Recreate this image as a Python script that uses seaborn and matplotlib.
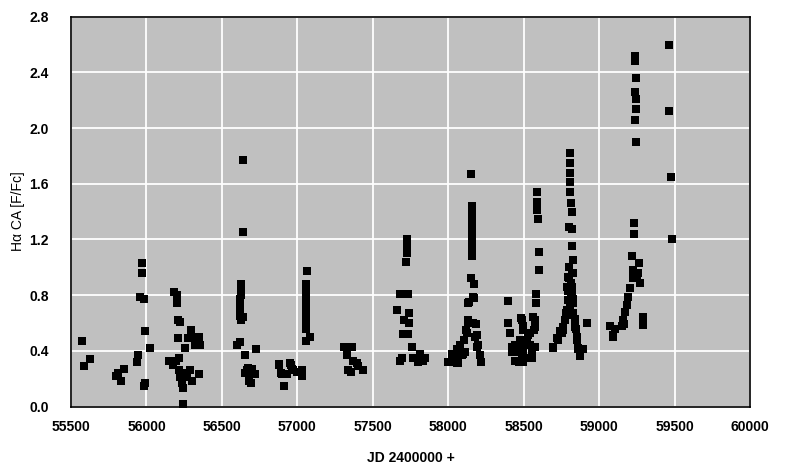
import matplotlib
matplotlib.use("Agg")
import matplotlib.pyplot as plt
from matplotlib.ticker import MultipleLocator, FormatStrFormatter
import numpy as np
import pandas as pd
import seaborn as sns

# Observations per season (JD - 2400000, H-alpha central absorption F/Fc)
jd_2011 = [55575, 55588, 55626, 55798, 55812, 55831, 55853]
ha_2011 = [0.47, 0.29, 0.34, 0.22, 0.24, 0.18, 0.27]

jd_2012 = [55971, 55973, 55957, 55986, 55992, 56024, 55944, 55939, 55992, 55986,
           56185, 56200, 56200, 56211, 56224, 56211, 56256, 56295, 56273, 56322,
           56350, 56322, 56355, 56350, 56152, 56174, 56213, 56213, 56222, 56233,
           56244, 56266, 56289, 56300, 56240, 56255, 56195]
ha_2012 = [1.03, 0.96, 0.79, 0.77, 0.54, 0.42, 0.37, 0.32, 0.17, 0.15,
           0.82, 0.80, 0.74, 0.62, 0.61, 0.49, 0.42, 0.55, 0.49, 0.50,
           0.50, 0.44, 0.44, 0.23, 0.33, 0.30, 0.35, 0.26, 0.21, 0.17,
           0.13, 0.21, 0.26, 0.18, 0.02, 0.24, 0.33]

jd_2013 = [56642, 56638, 56627, 56627, 56625, 56623, 56621, 56620, 56620, 56622,
           56625, 56642, 56620, 56603, 56653, 56726, 56664, 56675, 56686, 56682,
           56720, 56653, 56697, 56700, 56690,
           56877, 56890, 56912, 56956, 56967, 56930, 56996, 56881, 56952, 57029,
           57029, 56973, 56900]
ha_2013 = [1.77, 1.25, 0.88, 0.84, 0.80, 0.77, 0.74, 0.71, 0.68, 0.65,
           0.62, 0.64, 0.46, 0.44, 0.37, 0.415, 0.26, 0.28, 0.24, 0.18,
           0.23, 0.24, 0.27, 0.23, 0.17,
           0.30, 0.24, 0.15, 0.30, 0.27, 0.23, 0.25, 0.305, 0.31, 0.26,
           0.22, 0.26, 0.23]

jd_2015 = [57062, 57060, 57060, 57058, 57058, 57057, 57056, 57055, 57055, 57055,
           57056, 57084, 57055,
           57312, 57364, 57327, 57371, 57338, 57404, 57433, 57358, 57393]
ha_2015 = [0.97, 0.88, 0.85, 0.82, 0.79, 0.76, 0.73, 0.68, 0.62, 0.59,
           0.56, 0.50, 0.47,
           0.425, 0.43, 0.37, 0.33, 0.26, 0.29, 0.26, 0.25, 0.31]

jd_2016 = [57729, 57727, 57725, 57724, 57723, 57681, 57736, 57663, 57743, 57709,
           57743, 57702, 57736, 57757, 57692, 57681, 57769, 57813, 57835, 57802,
           57846]
ha_2016 = [1.20, 1.17, 1.13, 1.10, 1.04, 0.81, 0.81, 0.69, 0.67, 0.62,
           0.60, 0.52, 0.52, 0.43, 0.35, 0.33, 0.35, 0.38, 0.33, 0.32,
           0.35]

jd_2017 = [58056, 58034, 58067, 58078, 58100, 58045, 58023, 58149, 58156, 58156,
           58156, 58156, 58156, 58156, 58156, 58156, 58156, 58156, 58149, 58171,
           58171, 58140, 58131, 58118, 58105, 58184, 58191, 58197, 58211, 58218,
           58067, 58045, 58111, 58056, 58167, 58134, 58134, 58123, 58167, 58178,
           58193, 58030, 58089, 58001]
ha_2017 = [0.41, 0.36, 0.31, 0.44, 0.38, 0.32, 0.38, 1.67, 1.44, 1.40,
           1.36, 1.32, 1.28, 1.24, 1.20, 1.16, 1.12, 1.08, 0.92, 0.88,
           0.78, 0.75, 0.62, 0.55, 0.48, 0.59, 0.51, 0.44, 0.37, 0.32,
           0.37, 0.33, 0.39, 0.31, 0.79, 0.74, 0.60, 0.53, 0.60, 0.50,
           0.43, 0.35, 0.37, 0.32]

jd_2018 = [58394, 58398, 58410, 58487, 58564, 58575, 58498, 58542, 58476, 58520,
           58432, 58465, 58498, 58553, 58454, 58542, 58421, 58509, 58575, 58470,
           58587, 58591, 58587, 58598, 58604, 58604, 58582, 58582, 58922,
           58483, 58496, 58575, 58569, 58529, 58509, 58443, 58476, 58542, 58423,
           58489, 58555, 58443, 58522, 58496, 58555]
ha_2018 = [0.76, 0.60, 0.53, 0.62, 0.645, 0.57, 0.55, 0.53, 0.48, 0.47,
           0.41, 0.39, 0.39, 0.39, 0.33, 0.35, 0.43, 0.44, 0.43, 0.32,
           1.54, 1.47, 1.41, 1.35, 1.11, 0.98, 0.81, 0.74, 0.60,
           0.635, 0.58, 0.62, 0.55, 0.51, 0.48, 0.44, 0.42, 0.44, 0.39,
           0.37, 0.39, 0.33, 0.35, 0.32, 0.35]

jd_2019 = [58807, 58807, 58807, 58807, 58807, 58814, 58819, 58803, 58823, 58823,
           58830, 58803, 58830, 58800, 58812, 58822, 58796, 58815, 58828, 58805,
           58818, 58697, 58730, 58763, 58781, 58874, 58852, 58841, 58896, 58863,
           58697, 58730, 58752, 58796, 58819, 58785, 58819, 58796, 58830, 58785,
           58830, 58774, 58841, 58763, 58846, 58741, 58719, 58852, 58863]
ha_2019 = [1.82, 1.75, 1.68, 1.61, 1.54, 1.46, 1.40, 1.29, 1.275, 1.15,
           1.05, 1.00, 0.96, 0.92, 0.89, 0.86, 0.83, 0.80, 0.77, 0.72,
           0.66, 0.42, 0.49, 0.55, 0.67, 0.36, 0.48, 0.57, 0.41, 0.41,
           0.43, 0.48, 0.53, 0.93, 0.96, 0.86, 0.82, 0.765, 0.74, 0.69,
           0.67, 0.62, 0.63, 0.57, 0.56, 0.54, 0.49, 0.50, 0.42]

jd_2021 = [59464, 59240, 59236, 59245, 59236, 59247, 59247, 59236, 59247, 59466,
           59475, 59481, 59234, 59234, 59217, 59265, 59223, 59260, 59223, 59271,
           59248, 59205, 59194, 59183, 59172, 59156, 59150, 59072, 59106, 59090,
           59165, 59289, 59293, 59094]
ha_2021 = [2.60, 2.52, 2.48, 2.36, 2.26, 2.21, 2.14, 2.06, 1.90, 2.12,
           1.65, 1.20, 1.32, 1.24, 1.08, 1.03, 0.98, 0.96, 0.92, 0.885,
           0.94, 0.85, 0.79, 0.73, 0.68, 0.62, 0.58, 0.58, 0.56, 0.51,
           0.59, 0.64, 0.585, 0.50]

df = pd.DataFrame({
    "jd": jd_2011 + jd_2012 + jd_2013 + jd_2015 + jd_2016 + jd_2017
          + jd_2018 + jd_2019 + jd_2021,
    "ha": ha_2011 + ha_2012 + ha_2013 + ha_2015 + ha_2016 + ha_2017
          + ha_2018 + ha_2019 + ha_2021,
})

sns.set_style("white")
plt.rcParams["font.family"] = ["Liberation Sans", "DejaVu Sans"]
plt.rcParams["text.color"] = "black"
plt.rcParams["axes.labelcolor"] = "black"
plt.rcParams["xtick.color"] = "black"
plt.rcParams["ytick.color"] = "black"

fig = plt.figure(figsize=(7.91, 4.76), dpi=100)
ax = fig.add_axes([0.0898, 0.146, 0.8584, 0.819])
ax.set_facecolor("#c0c0c0")

sns.scatterplot(data=df, x="jd", y="ha", marker="s", s=40, color="black",
                linewidth=0, ax=ax, zorder=3)

ax.set_xlim(55500, 60000)
ax.set_ylim(0, 2.8)
ax.xaxis.set_major_locator(MultipleLocator(500))
ax.yaxis.set_major_locator(MultipleLocator(0.4))
ax.yaxis.set_minor_locator(MultipleLocator(0.2))
ax.yaxis.set_major_formatter(FormatStrFormatter("%.1f"))
ax.grid(True, which="major", color="white", linewidth=1.3)
ax.set_axisbelow(True)

ax.tick_params(axis="both", which="both", direction="in", length=5, width=1,
               color="black", labelcolor="black", labelsize=10)
ax.tick_params(axis="x", pad=10)
ax.tick_params(axis="y", pad=16)
for lab in ax.get_xticklabels() + ax.get_yticklabels():
    lab.set_fontweight("bold")

for sp in ax.spines.values():
    sp.set_color("black")
    sp.set_linewidth(1.2)

ax.set_xlabel("JD 2400000 +", fontsize=10, fontweight="bold", labelpad=12)
ax.set_ylabel("H\u03b1 CA [F/Fc]", fontsize=10)
ax.yaxis.set_label_coords(-0.068, 0.5)

fig.savefig("out.png", dpi=100)
